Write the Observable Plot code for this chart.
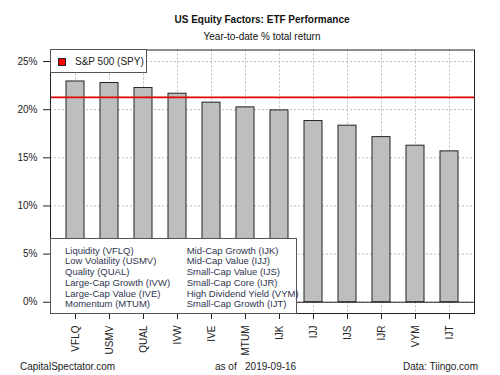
<!DOCTYPE html>
<html>
<head>
<meta charset="utf-8">
<script src="https://cdn.jsdelivr.net/npm/d3@7"></script>
<script src="https://cdn.jsdelivr.net/npm/@observablehq/plot@0.6"></script>
<style>
  html, body { margin: 0; padding: 0; background: white; }
  #wrap { position: relative; width: 500px; height: 375px; overflow: hidden; font-family: "Liberation Sans", Arial, sans-serif; color: #222; }
  #wrap svg { position: absolute; left: 0; top: 0; }
  .t { position: absolute; white-space: pre; line-height: 12px; font-size: 10px; }
  .box { position: absolute; background: white; border: 1px solid #555; box-sizing: border-box; }
  .leg { position: absolute; white-space: pre; font-size: 9.5px; line-height: 12px; color: #2f3650; }
</style>
</head>
<body>
<div id="wrap"></div>
<script>
// ---- data ----
const tickers = ["VFLQ","USMV","QUAL","IVW","IVE","MTUM","IJK","IJJ","IJS","IJR","VYM","IJT"];
const values  = [22.93, 22.77, 22.25, 21.66, 20.73, 20.24, 19.93, 18.82, 18.34, 17.15, 16.26, 15.67];
const spyValue = 21.28;
const yTicks = [0, 5, 10, 15, 20, 25];
const legendCol1 = ["Liquidity (VFLQ)","Low Volatility (USMV)","Quality (QUAL)","Large-Cap Growth (IVW)","Large-Cap Value (IVE)","Momentum (MTUM)"];
const legendCol2 = ["Mid-Cap Growth (IJK)","Mid-Cap Value (IJJ)","Small-Cap Value (IJS)","Small-Cap Core (IJR)","High Dividend Yield (VYM)","Small-Cap Growth (IJT)"];
const title = "US Equity Factors: ETF Performance";
const subtitle = "Year-to-date % total return";
const spyLabel = "S&P 500 (SPY)";
const footLeft = "CapitalSpectator.com";
const footMid = "as of   2019-09-16";
const footRight = "Data: Tiingo.com";

const data = tickers.map((t, i) => ({ticker: t, value: values[i]}));

const chart = Plot.plot({
  width: 500,
  height: 375,
  marginTop: 49.5,
  marginBottom: 62,
  marginLeft: 50,
  marginRight: 26,
  x: {domain: tickers, paddingInner: 0.475, paddingOuter: 0.42, label: null},
  y: {domain: [-1.17, 26.2], label: null},
  style: {fontFamily: "'Liberation Sans', Arial, sans-serif", fontSize: "10px", color: "#222", background: "white", overflow: "visible"},
  marks: [
    Plot.gridY(yTicks, {stroke: "#bbb", strokeOpacity: 1, strokeDasharray: "2,2"}),
    Plot.gridX({stroke: "#bbb", strokeOpacity: 1, strokeDasharray: "2,2"}),
    Plot.barY(data, {x: "ticker", y: "value", fill: "#bebebe", stroke: "#222", strokeWidth: 1}),
    Plot.ruleY([0], {stroke: "#222"}),
    Plot.ruleY([spyValue], {stroke: "#e00000", strokeWidth: 1.6}),
    Plot.axisY(yTicks, {tickFormat: d => d + "%", tickSize: 7, tickPadding: 6, label: null}),
    Plot.axisX({tickRotate: -90, tickSize: 6, tickPadding: 6, label: null}),
    Plot.frame({stroke: "#222"})
  ]
});

const wrap = document.getElementById("wrap");
wrap.appendChild(chart);

function addText(txt, left, centerY, extra) {
  const d = document.createElement("div");
  d.className = "t";
  d.textContent = txt;
  d.style.left = left + "px";
  d.style.top = (centerY - 6) + "px";
  if (extra) Object.assign(d.style, extra);
  wrap.appendChild(d);
  return d;
}
// title & subtitle centered over plot area
addText(title, 0, 20, {width: "524px", textAlign: "center", fontWeight: "bold", color: "#111"});
addText(subtitle, 0, 36.7, {width: "524px", textAlign: "center", color: "#111"});
// footer
addText(footLeft, 20, 366.7);
addText(footMid, 215, 366.7);
addText(footRight, 0, 366.7, {width: "478px", textAlign: "right"});

// top legend
const b1 = document.createElement("div");
b1.className = "box";
Object.assign(b1.style, {left: "50px", top: "49px", width: "97px", height: "24px"});
wrap.appendChild(b1);
const sq = document.createElement("div");
Object.assign(sq.style, {position: "absolute", left: "58px", top: "57.5px", width: "6px", height: "6px", background: "#ff0000", border: "1px solid #222", boxSizing: "content-box"});
wrap.appendChild(sq);
addText(spyLabel, 75, 61.5, {color: "#222"});

// bottom legend
const b2 = document.createElement("div");
b2.className = "box";
Object.assign(b2.style, {left: "49.5px", top: "237.5px", width: "247.5px", height: "76px"});
wrap.appendChild(b2);
legendCol1.forEach((s, i) => {
  const d = addText(s, 65, 250.7 + 10.72 * i);
  d.className = "leg";
});
legendCol2.forEach((s, i) => {
  const d = addText(s, 186.7, 250.7 + 10.72 * i);
  d.className = "leg";
});
</script>
</body>
</html>
